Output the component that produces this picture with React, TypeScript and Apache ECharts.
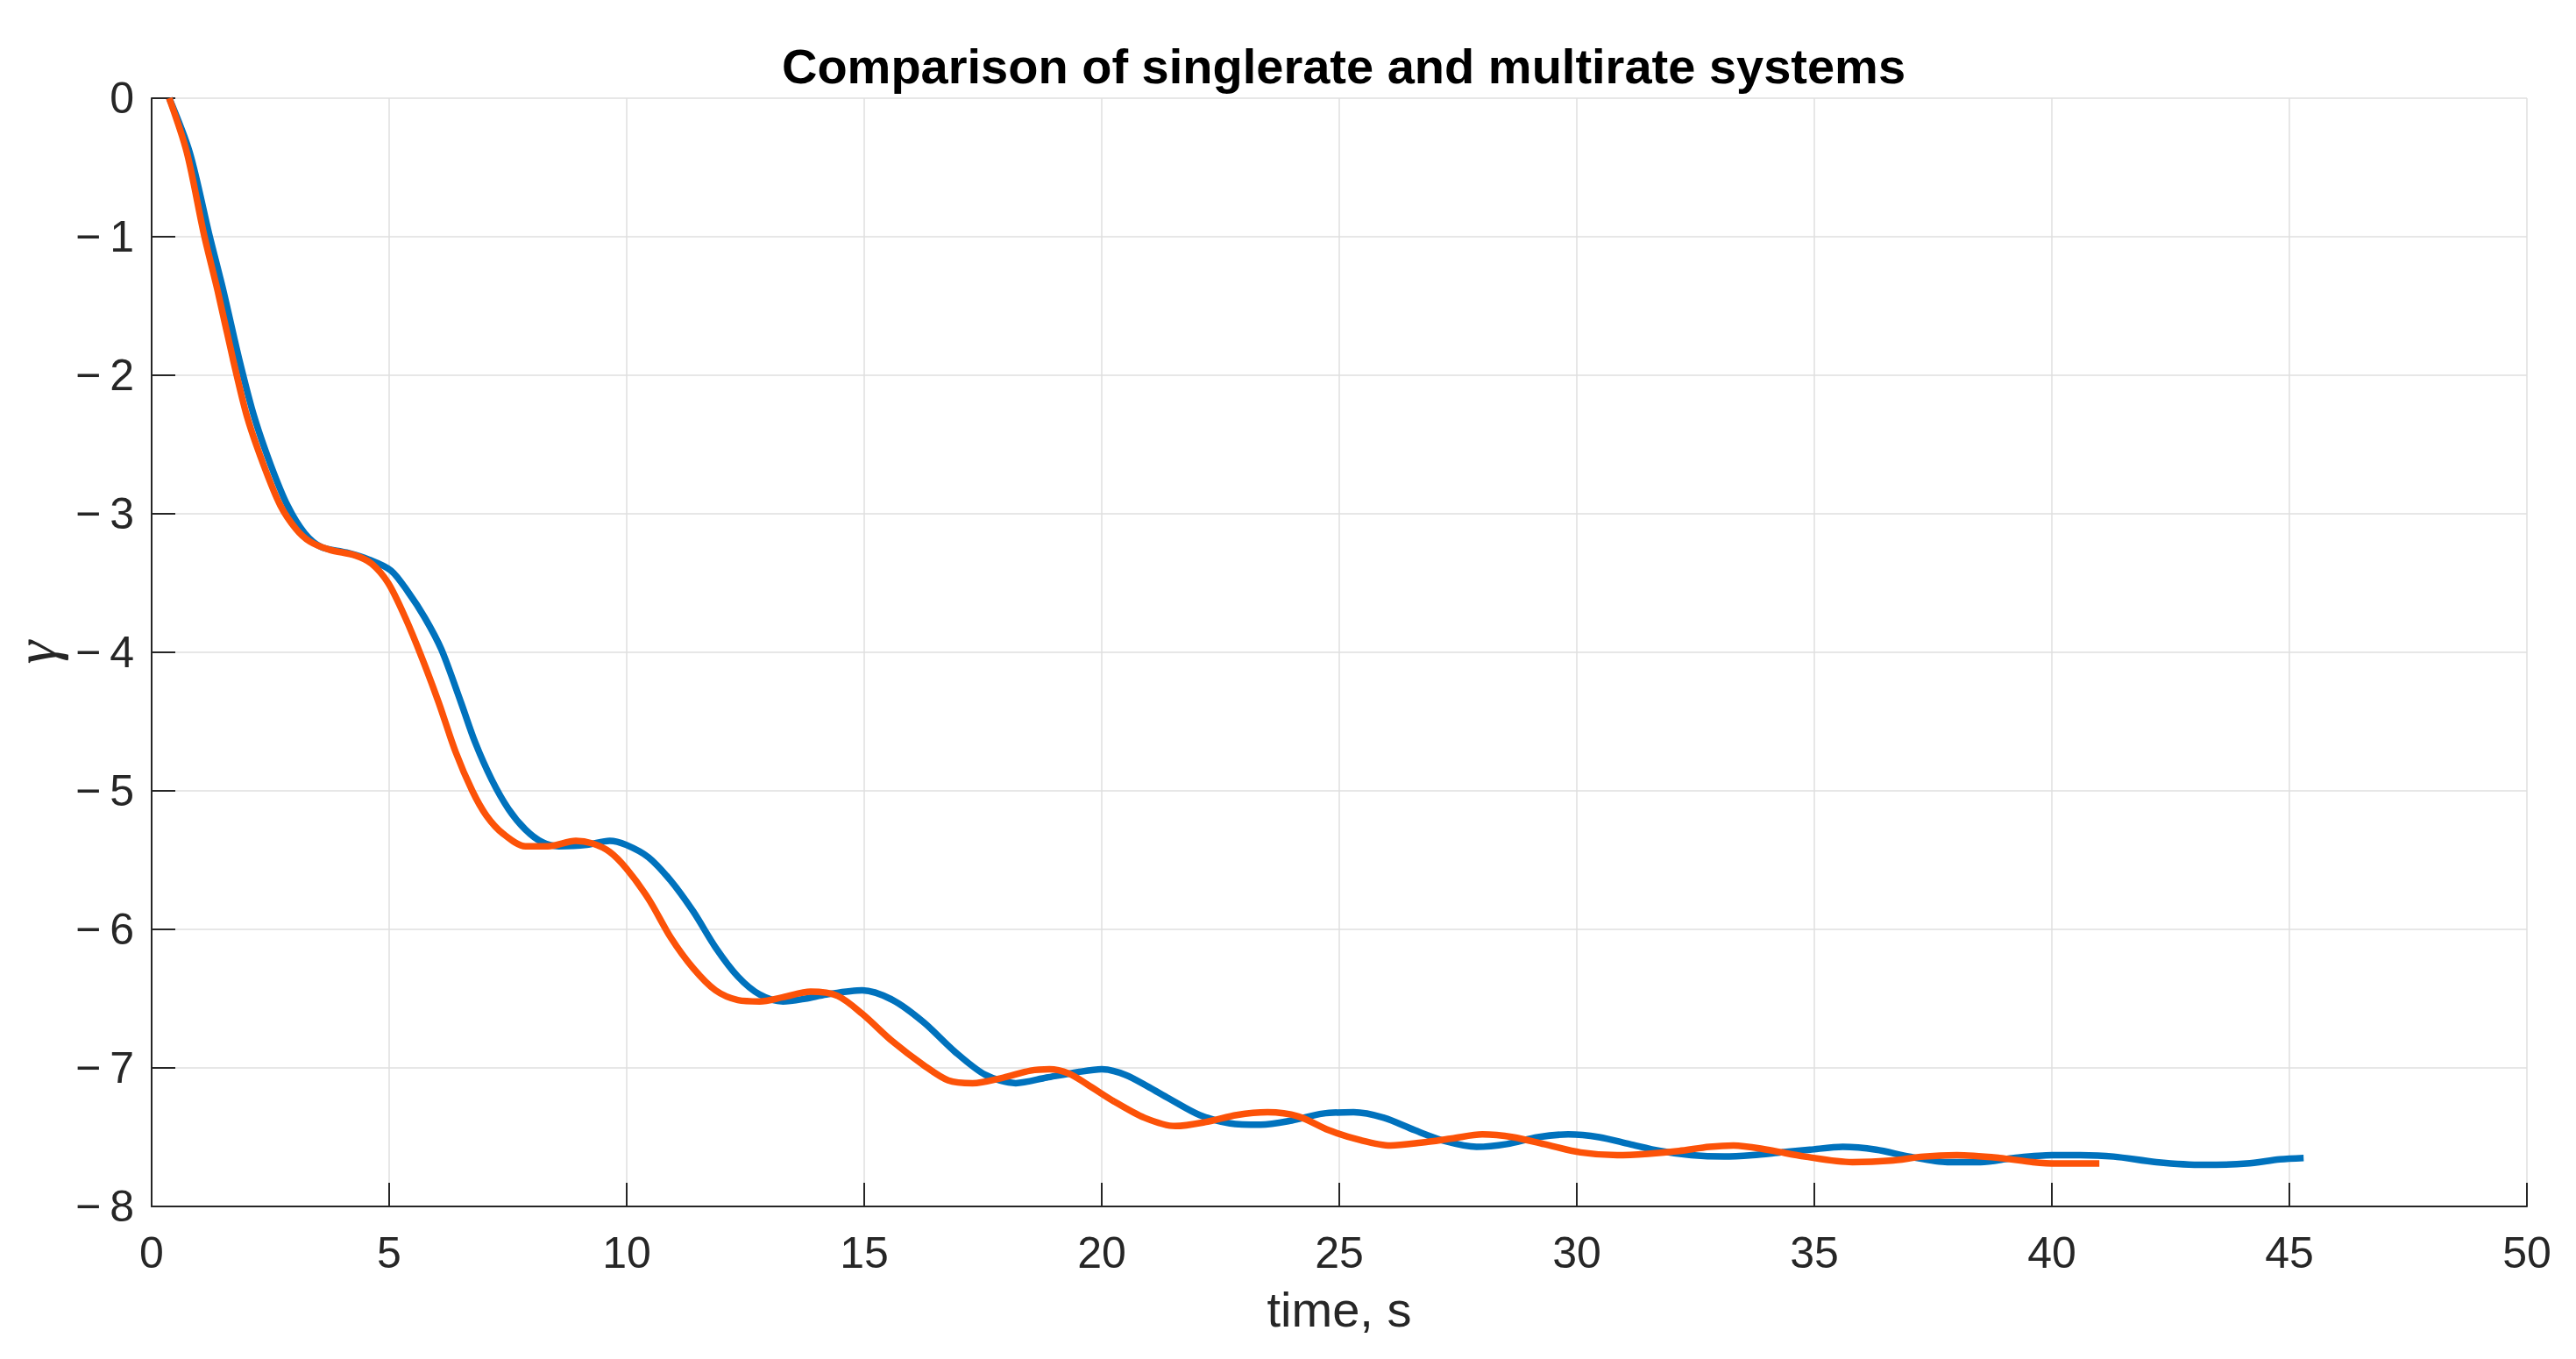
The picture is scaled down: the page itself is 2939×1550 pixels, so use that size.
import React, { useEffect, useRef } from "react";
import * as echarts from "echarts";

const titleText = "Comparison of singlerate and multirate systems";
const xName = "time, s";
const yName = "γ";

const blueT = [0.37, 0.8, 1.21, 1.51, 1.84, 2.16, 2.51, 2.86, 3.22, 3.57, 4.1, 4.57, 5.04, 5.39, 5.75, 6.1, 6.51, 6.81, 7.16, 7.51, 7.87, 8.22, 8.57, 9.16, 9.64, 9.99, 10.46, 10.93, 11.4, 11.87, 12.34, 12.8, 13.29, 13.76, 14.2, 14.96, 15.6, 16.25, 16.9, 17.55, 18.19, 18.84, 19.5, 20.0, 20.5, 21.0, 21.41, 22.06, 22.7, 23.35, 24.0, 24.65, 25.3, 25.94, 26.59, 27.24, 27.89, 28.53, 29.18, 29.82, 30.47, 31.11, 31.76, 32.41, 33.1, 33.7, 34.3, 34.91, 35.6, 36.3, 37.0, 37.8, 38.5, 39.2, 40.0, 40.6, 41.3, 42.2, 43.2, 44.1, 44.8, 45.3];
const blueY = [0, -0.39, -0.98, -1.39, -1.88, -2.3, -2.65, -2.94, -3.14, -3.24, -3.28, -3.33, -3.41, -3.56, -3.75, -3.98, -4.36, -4.65, -4.92, -5.13, -5.28, -5.37, -5.4, -5.39, -5.36, -5.39, -5.48, -5.65, -5.87, -6.13, -6.34, -6.47, -6.52, -6.5, -6.47, -6.44, -6.51, -6.67, -6.88, -7.05, -7.11, -7.07, -7.03, -7.01, -7.05, -7.14, -7.22, -7.34, -7.4, -7.41, -7.38, -7.33, -7.32, -7.36, -7.45, -7.53, -7.57, -7.55, -7.5, -7.48, -7.5, -7.55, -7.6, -7.63, -7.64, -7.63, -7.61, -7.59, -7.57, -7.59, -7.64, -7.68, -7.68, -7.65, -7.63, -7.63, -7.64, -7.68, -7.7, -7.69, -7.66, -7.65];

const orangeT = [0.37, 0.74, 1.1, 1.39, 1.71, 2.01, 2.36, 2.71, 3.04, 3.33, 3.75, 4.28, 4.63, 4.98, 5.34, 5.69, 6.04, 6.4, 6.75, 7.05, 7.4, 7.87, 8.34, 8.93, 9.28, 9.64, 9.99, 10.46, 10.93, 11.4, 11.87, 12.34, 12.8, 13.29, 13.87, 14.44, 14.96, 15.6, 16.25, 16.77, 17.28, 17.93, 18.5, 18.9, 19.3, 19.7, 20.25, 20.9, 21.55, 22.2, 22.84, 23.49, 24.14, 24.78, 25.43, 26.08, 26.72, 27.37, 28.01, 28.66, 29.31, 30.08, 30.85, 31.5, 32.15, 32.79, 33.3, 34.0, 34.8, 35.8, 36.6, 37.3, 38.0, 38.9, 39.6, 40.1, 41.0];
const orangeY = [0, -0.39, -0.98, -1.39, -1.88, -2.3, -2.65, -2.94, -3.11, -3.2, -3.26, -3.3, -3.36, -3.5, -3.75, -4.04, -4.36, -4.72, -5.0, -5.18, -5.31, -5.4, -5.4, -5.36, -5.38, -5.44, -5.56, -5.78, -6.06, -6.28, -6.44, -6.51, -6.52, -6.49, -6.45, -6.48, -6.61, -6.81, -6.98, -7.09, -7.11, -7.07, -7.02, -7.01, -7.04, -7.12, -7.24, -7.36, -7.42, -7.39, -7.34, -7.32, -7.35, -7.45, -7.52, -7.56, -7.54, -7.51, -7.48, -7.5, -7.55, -7.61, -7.63, -7.62, -7.6, -7.57, -7.56, -7.59, -7.64, -7.68, -7.67, -7.64, -7.63, -7.65, -7.68, -7.69, -7.69];

const xTicks = { min: 0, max: 50, interval: 5 };
const yTicks = { min: -8, max: 0, interval: 1 };

const AXIS = "#262626";
const GRID = "#dfdfdf";
const SANS = "'Liberation Sans', Arial, Helvetica, sans-serif";

function zip(t: number[], y: number[]) {
  return t.map((v, i) => [v, y[i]]);
}

export default function App() {
  const ref = useRef<HTMLDivElement>(null);
  useEffect(() => {
    if (!ref.current) return;
    const chart = echarts.init(ref.current, null, { renderer: "svg" });
    chart.setOption({
      animation: false,
      backgroundColor: "#ffffff",
      title: {
        text: titleText,
        left: 1528,
        top: 42,
        textAlign: "center",
        textStyle: { fontFamily: SANS, fontSize: 56, fontWeight: "bold", color: "#000000" },
      },
      grid: { left: 173, right: 56, top: 112, bottom: 174, containLabel: false, outerBoundsMode: "none" },
      xAxis: {
        type: "value",
        min: xTicks.min,
        max: xTicks.max,
        interval: xTicks.interval,
        name: xName,
        nameLocation: "middle",
        nameGap: 89,
        nameTextStyle: { fontFamily: SANS, fontSize: 56, color: AXIS },
        axisLine: { show: true, onZero: false, lineStyle: { color: AXIS, width: 2 } },
        axisTick: { show: true, inside: true, length: 27, lineStyle: { color: AXIS, width: 2 } },
        splitLine: { show: true, lineStyle: { color: GRID, width: 1.5 } },
        axisLabel: { fontFamily: SANS, fontSize: 50, color: AXIS, margin: 28, showMinLabel: true, showMaxLabel: true },
      },
      yAxis: {
        type: "value",
        min: yTicks.min,
        max: yTicks.max,
        interval: yTicks.interval,
        name: yName,
        nameLocation: "middle",
        nameRotate: 90,
        nameGap: 68,
        nameTextStyle: { fontFamily: "'Liberation Serif', 'DejaVu Serif', serif", fontStyle: "italic", fontSize: 68, color: AXIS },
        axisLine: { show: true, onZero: false, lineStyle: { color: AXIS, width: 2 } },
        axisTick: { show: true, inside: true, length: 27, lineStyle: { color: AXIS, width: 2 } },
        splitLine: { show: true, lineStyle: { color: GRID, width: 1.5 } },
        axisLabel: {
          fontFamily: SANS,
          fontSize: 50,
          color: AXIS,
          margin: 20,
          showMinLabel: true,
          showMaxLabel: true,
          formatter: (v: number) => (v < 0 ? "\u2212\u2009" + Math.abs(v) : String(v)),
        },
      },
      series: [
        {
          name: "singlerate",
          type: "line",
          data: zip(blueT, blueY),
          showSymbol: false,
          smooth: 0.3,
          lineStyle: { color: "#0072BD", width: 7.5 },
          itemStyle: { color: "#0072BD" },
          z: 2,
        },
        {
          name: "multirate",
          type: "line",
          data: zip(orangeT, orangeY),
          showSymbol: false,
          smooth: 0.3,
          lineStyle: { color: "#FC5208", width: 7.5 },
          itemStyle: { color: "#FC5208" },
          z: 3,
        },
      ],
    });
    return () => chart.dispose();
  }, []);
  return (
    <div
      ref={ref}
      style={{ position: "fixed", left: 0, top: 0, width: "100vw", height: "100vh", background: "#fff" }}
    />
  );
}
